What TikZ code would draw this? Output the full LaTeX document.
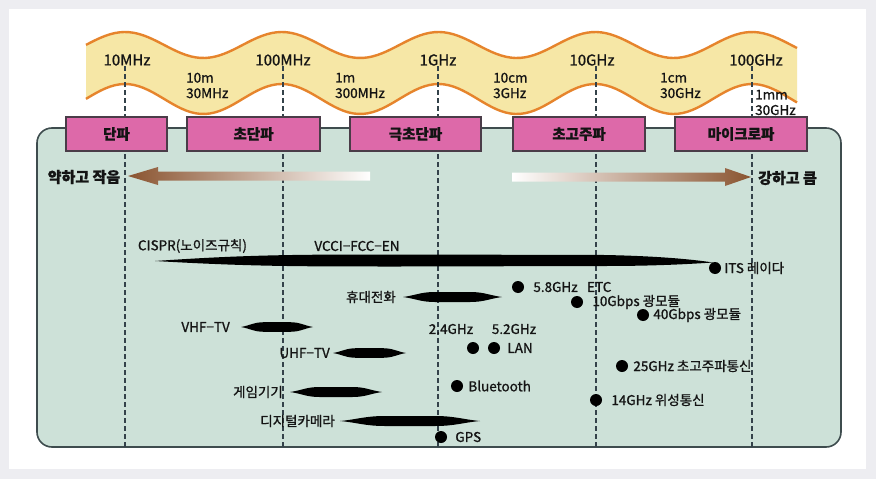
\documentclass[tikz,border=0pt]{standalone}
\usepackage{fontspec}
\setmainfont{Noto Sans CJK KR}[FakeBold=1]
\usetikzlibrary{positioning}

\definecolor{bggrey}{HTML}{EDEDF1}
\definecolor{bandyellow}{HTML}{F6E7A6}
\definecolor{bandorange}{HTML}{E6842C}
\definecolor{panelgreen}{HTML}{CDE1D8}
\definecolor{paneledge}{HTML}{3E4C4E}
\definecolor{boxpink}{HTML}{DD69A9}
\definecolor{boxedge}{HTML}{4A3C48}
\definecolor{arrowbrown}{HTML}{8A5430}
\definecolor{dashgrey}{HTML}{34424A}
\definecolor{textblack}{HTML}{141414}

\tikzset{
  every node/.style={
    inner sep=1pt,
    text=textblack
  },
  freqlabel/.style={font=\fontsize{15}{17}\selectfont},
  wavelabel/.style={font=\fontsize{13.5}{15.5}\selectfont, align=left, anchor=west},
  bandbox/.style={draw=boxedge, fill=boxpink, line width=1.5pt,
    minimum height=34pt, font=\fontsize{14.5}{16}\selectfont\bfseries},
  sidelabel/.style={font=\fontsize{15}{17}\selectfont\bfseries},
  applabel/.style={font=\fontsize{13.5}{15}\selectfont},
  appdot/.style={circle, fill=black, minimum size=12pt, inner sep=0pt},
  decade/.style={dashgrey, line width=1.3pt, dash pattern=on 5pt off 3pt}
}

% 방추형 막대: x1, x2, y, 반두께
\newcommand{\spindlebar}[4]{%
  \fill[black] (#1,#3)
    .. controls ({#1+0.12*(#2-#1)},{#3-0.3*#4}) and ({#1+0.18*(#2-#1)},{#3-#4}) .. ({#1+0.32*(#2-#1)},{#3-#4})
    -- ({#2-0.32*(#2-#1)},{#3-#4})
    .. controls ({#2-0.18*(#2-#1)},{#3-#4}) and ({#2-0.12*(#2-#1)},{#3-0.3*#4}) .. (#2,#3)
    .. controls ({#2-0.12*(#2-#1)},{#3+0.3*#4}) and ({#2-0.18*(#2-#1)},{#3+#4}) .. ({#2-0.32*(#2-#1)},{#3+#4})
    -- ({#1+0.32*(#2-#1)},{#3+#4})
    .. controls ({#1+0.18*(#2-#1)},{#3+#4}) and ({#1+0.12*(#2-#1)},{#3+0.3*#4}) .. (#1,#3) -- cycle;}

\begin{document}
\begin{tikzpicture}[x=1pt,y=-1pt]
    \useasboundingbox (0,0) rectangle (876,479);
    % 배경
    \fill[bggrey] (0,0) rectangle (876,479);
    \fill[white] (9,9) rectangle (866,469);
    \draw[paneledge, fill=panelgreen, rounded corners=15pt, line width=1.6pt]
        (37,128) rectangle (841,447);

    % 파동 띠
    \fill[bandyellow]
        plot[domain=86:797, samples=150] (\x,{45-13*cos(2.29665*(\x-125))})
        -- plot[domain=797:86, samples=150] (\x,{99-15*cos(2.29665*(\x-125))})
        -- cycle;
    \draw[bandorange, line width=2.4pt]
        plot[domain=86:797, samples=150] (\x,{45-13*cos(2.29665*(\x-125))});
    \draw[bandorange, line width=2.4pt]
        plot[domain=86:797, samples=150] (\x,{99-15*cos(2.29665*(\x-125))});

    % 점선
    \foreach \d in {125,283,438,596,752}
        \draw[decade] (\d,66) -- (\d,447);

    % 주파수
    \node[freqlabel] (f10M) at (127,60) {10MHz};
    \node[freqlabel] (f100M) at (283,60) {100MHz};
    \node[freqlabel] (f1G) at (438,60) {1GHz};
    \node[freqlabel] (f10G) at (592,60) {10GHz};
    \node[freqlabel] (f100G) at (756,60) {100GHz};

    % 파장
    \node[wavelabel] (w10m) at (185,85.5) {10m\\30MHz};
    \node[wavelabel] (w1m) at (334,85.5) {1m\\300MHz};
    \node[wavelabel] (w10cm) at (492,85.5) {10cm\\3GHz};
    \node[wavelabel] (w1cm) at (659,85.5) {1cm\\30GHz};
    \node[wavelabel] (w1mm) at (754,102.5) {1mm\\30GHz};

    % 대역
    \node[bandbox, minimum width=101pt] (hf) at (116.5,134) {단파};
    \node[bandbox, minimum width=133pt] (vhf) at (253.5,134) {초단파};
    \node[bandbox, minimum width=131pt] (uhf) at (415.5,134) {극초단파};
    \node[bandbox, minimum width=132pt] (shf) at (579,134) {초고주파};
    \node[bandbox, minimum width=132pt] (mw) at (741,134) {마이크로파};

    % 화살표
    \shade[left color=arrowbrown, middle color=arrowbrown!75!white, right color=white]
        (128,176) -- (158,167) -- (158,171.5) -- (370,171.5)
        -- (370,180.5) -- (158,180.5) -- (158,185) -- cycle;
    \shade[left color=white, middle color=arrowbrown!75!white, right color=arrowbrown]
        (751,177) -- (725,168) -- (725,172.5) -- (512,172.5)
        -- (512,181.5) -- (725,181.5) -- (725,186) -- cycle;
    \node[sidelabel] (weak) at (84,177) {약하고 작음};
    \node[sidelabel, anchor=west] (strong) at (757,178) {강하고 큼};

    % 규격
    \fill[black] (155,261) .. controls (250,254.5) and (300,254.5) .. (400,254.5)
        -- (605,255) .. controls (655,256) and (690,259) .. (713,262.5)
        .. controls (690,264) and (655,266) .. (605,266)
        -- (400,266.5) .. controls (300,266.5) and (250,266.5) .. cycle;
    \node[applabel] (cispr) at (192.5,246) {CISPR(노이즈규칙)};
    \node[applabel] (vcci) at (357,246) {VCCI−FCC−EN};

    % 기기
    \spindlebar{403}{502}{297}{5}
    \coordinate (phoneL) at (403,297);
    \node[applabel, left=6pt of phoneL] (phone) {휴대전화};
    \spindlebar{241}{313}{327}{4.8}
    \coordinate (vhftvL) at (241,327);
    \node[applabel, left=10pt of vhftvL] (vhftv) {VHF−TV};
    \spindlebar{333}{406}{353}{4.8}
    \coordinate (uhftvL) at (333,353);
    \node[applabel, left=2pt of uhftvL] (uhftv) {UHF−TV};
    \spindlebar{290}{382}{392}{5}
    \coordinate (gameL) at (290,392);
    \node[applabel, left=6pt of gameL] (game) {게임기기};
    \spindlebar{340}{480}{421}{5}
    \coordinate (cameraL) at (340,421);
    \node[applabel, left=4pt of cameraL] (camera) {디지털카메라};

    % 점
    \node[appdot] (its) at (715,268) {};
    \node[applabel, right=2pt of its] (itsL) {ITS 레이다};
    \node[appdot] (etc) at (518,287) {};
    \node[applabel, right=8pt of etc] (etcL) {5.8GHz\hspace{0.7em}ETC};
    \node[appdot] (opt10) at (577,302) {};
    \node[applabel, right=8pt of opt10] (opt10L) {10Gbps 광모듈};
    \node[appdot] (opt40) at (643,315) {};
    \node[applabel, right=3pt of opt40] (opt40L) {40Gbps 광모듈};
    \node[applabel] (lan24) at (451,329) {2.4GHz};
    \node[applabel] (lan52) at (514,329) {5.2GHz};
    \node[appdot] (lanA) at (473,348) {};
    \node[appdot] (lanB) at (494,348) {};
    \node[applabel, right=6pt of lanB] (lanL) {LAN};
    \node[appdot] (bt) at (457,386) {};
    \node[applabel, right=4pt of bt] (btL) {Bluetooth};
    \node[appdot] (gps) at (441,437) {};
    \node[applabel, right=7pt of gps] (gpsL) {GPS};
    \node[appdot] (shf25) at (622,366) {};
    \node[applabel, right=4pt of shf25] (shf25L) {25GHz 초고주파통신};
    \node[appdot] (sat14) at (596,400) {};
    \node[applabel, right=8pt of sat14] (sat14L) {14GHz 위성통신};
\end{tikzpicture}
\end{document}
